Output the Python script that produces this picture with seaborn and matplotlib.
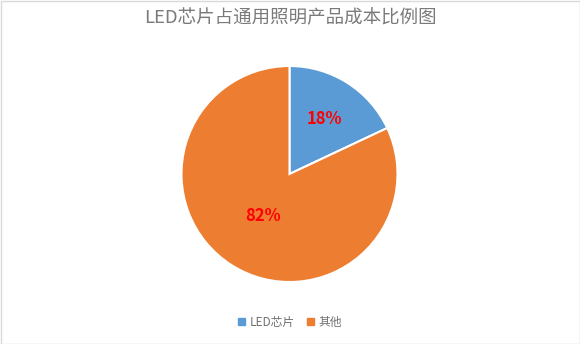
import numpy as np
import matplotlib
matplotlib.use("Agg")
import matplotlib.pyplot as plt
import seaborn as sns
from matplotlib.patches import Rectangle

categories = ["LED芯片", "其他"]
shares = [18, 82]
colors = ["#5B9BD5", "#ED7D31"]
title = "LED芯片占通用照明产品成本比例图"

sns.set_theme(style="white")
plt.rcParams["font.family"] = ["Noto Sans CJK SC", "DejaVu Sans"]

W, H = 580, 344
fig = plt.figure(figsize=(W / 100, H / 100), dpi=100)
fig.patch.set_facecolor("white")

# pie axes: centre and radius in pixels
cx, cy, r = 289.5, 174, 108
ax = fig.add_axes([(cx - r) / W, (H - cy - r) / H, 2 * r / W, 2 * r / H])
wedges, _ = ax.pie(
    shares, colors=colors, startangle=90, counterclock=False,
    radius=1.0, wedgeprops=dict(edgecolor="white", linewidth=1.5),
)
ax.set_xlim(-1, 1)
ax.set_ylim(-1, 1)
ax.set_aspect("equal")
ax.axis("off")

# percentage labels placed along each wedge's bisector
label_dist = [0.6, 0.46]
for w, v, d in zip(wedges, shares, label_dist):
    ang = np.deg2rad((w.theta1 + w.theta2) / 2)
    ax.text(d * np.cos(ang), d * np.sin(ang), f"{v}%", color="#FF0000",
            fontsize=12, fontweight="bold", ha="center", va="center")

fig.text(0.5, 1 - 18 / H, title, ha="center", va="center",
         fontsize=13.3, color="#7A7A7A")

handles = [plt.Rectangle((0, 0), 1, 1, color=c) for c in colors]
fig.legend(handles, categories, loc="center", bbox_to_anchor=(0.5, 1 - 322 / H),
           ncol=2, frameon=False, fontsize=8.5, handlelength=0.6, handleheight=0.6,
           handletextpad=0.4, columnspacing=1.0, labelcolor="#707070")

fig.patches.append(Rectangle((0.5 / W, 0.5 / H), 1 - 1 / W, 1 - 1 / H,
                             transform=fig.transFigure, fill=False,
                             edgecolor="#D9D9D9", linewidth=1))

fig.savefig("out.png", dpi=100)
